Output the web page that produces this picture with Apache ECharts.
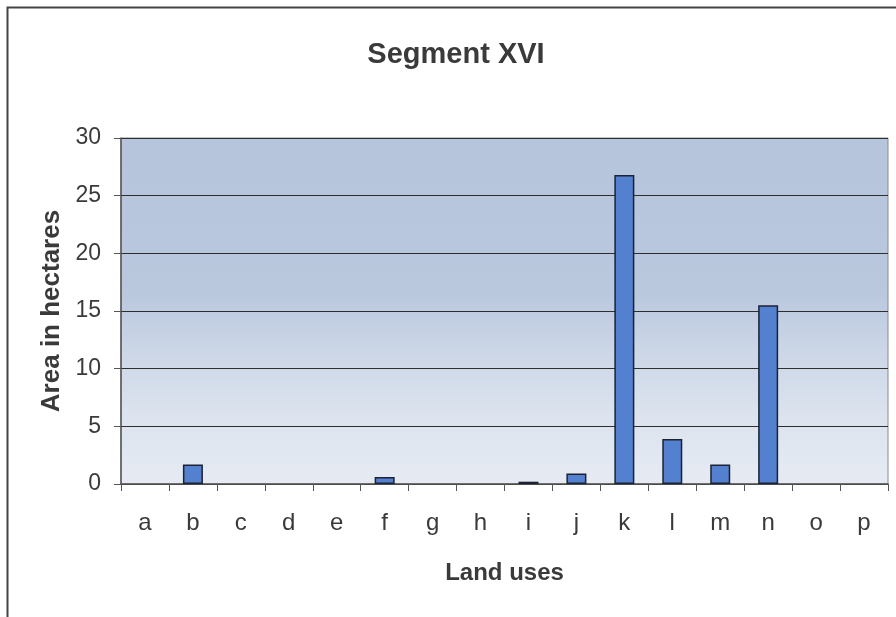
<!DOCTYPE html>
<html>
<head>
<meta charset="utf-8">
<script src="https://cdn.jsdelivr.net/npm/echarts@6/dist/echarts.min.js"></script>
<style>
  html, body { margin: 0; padding: 0; background: #ffffff; }
  #chart { width: 896px; height: 617px; }
</style>
</head>
<body>
<div id="chart"></div>
<script>
// Land-use categories along the x axis
var landUses = ['a', 'b', 'c', 'd', 'e', 'f', 'g', 'h', 'i', 'j', 'k', 'l', 'm', 'n', 'o', 'p'];
// Area of each land use, in hectares
var areaHectares = [0, 1.7, 0, 0, 0, 0.6, 0, 0, 0.2, 0.9, 26.8, 3.9, 1.7, 15.5, 0, 0];
// Value axis range
var yMin = 0, yMax = 30, yStep = 5;

var FONT = "'Liberation Sans', Arial, sans-serif";
var TEXT = '#3a3a3a';

// Empty categories get no outline so nothing shows at zero
var barData = areaHectares.map(function (v) {
  return v > 0 ? v : { value: v, itemStyle: { borderWidth: 0 } };
});

var chart = echarts.init(document.getElementById('chart'), null, { renderer: 'canvas' });

chart.setOption({
  animation: false,
  backgroundColor: '#ffffff',
  title: {
    text: 'Segment XVI',
    left: 451,
    top: 35,
    textAlign: 'center',
    textStyle: { fontFamily: FONT, fontSize: 29, fontWeight: 'bold', color: TEXT }
  },
  graphic: [{
    type: 'rect',
    shape: { x: 7.5, y: 7.5, width: 1000, height: 700 },
    style: { fill: 'none', stroke: '#444444', lineWidth: 2 },
    silent: true,
    z: -1
  }],
  grid: {
    left: 121, right: 8, top: 138, bottom: 133,
    show: true,
    borderColor: '#8a8a8a',
    borderWidth: 1,
    backgroundColor: new echarts.graphic.LinearGradient(0, 0, 0, 1, [
      { offset: 0, color: '#b6c5dc' },
      { offset: 0.45, color: '#bac8de' },
      { offset: 0.6, color: '#cad5e6' },
      { offset: 0.8, color: '#dce3ee' },
      { offset: 1, color: '#e6ebf3' }
    ])
  },
  xAxis: {
    type: 'category',
    data: landUses,
    name: 'Land uses',
    nameLocation: 'middle',
    nameGap: 77,
    nameTextStyle: { fontFamily: FONT, fontSize: 24, fontWeight: 'bold', color: TEXT },
    axisLine: { show: true, lineStyle: { color: '#555555', width: 1.5 } },
    axisTick: { show: true, alignWithLabel: false, length: 7, inside: false, lineStyle: { color: '#555555' } },
    axisLabel: { fontFamily: FONT, fontSize: 24, color: TEXT, margin: 27 },
    splitLine: { show: false }
  },
  yAxis: {
    type: 'value',
    min: yMin,
    max: yMax,
    interval: yStep,
    name: 'Area in hectares',
    nameLocation: 'middle',
    nameGap: 56,
    nameTextStyle: { fontFamily: FONT, fontSize: 26, fontWeight: 'bold', color: TEXT },
    axisLine: { show: true, lineStyle: { color: '#555555', width: 1.5 } },
    axisTick: { show: true, length: 7, lineStyle: { color: '#555555' } },
    axisLabel: { fontFamily: FONT, fontSize: 23, color: TEXT, margin: 20 },
    splitLine: { show: true, lineStyle: { color: '#2e2e2e', width: 1.2 } }
  },
  series: [{
    type: 'bar',
    data: barData,
    barWidth: 20,
    itemStyle: { color: '#5380cf', borderColor: '#1c2233', borderWidth: 1.5 }
  }]
});
</script>
</body>
</html>
